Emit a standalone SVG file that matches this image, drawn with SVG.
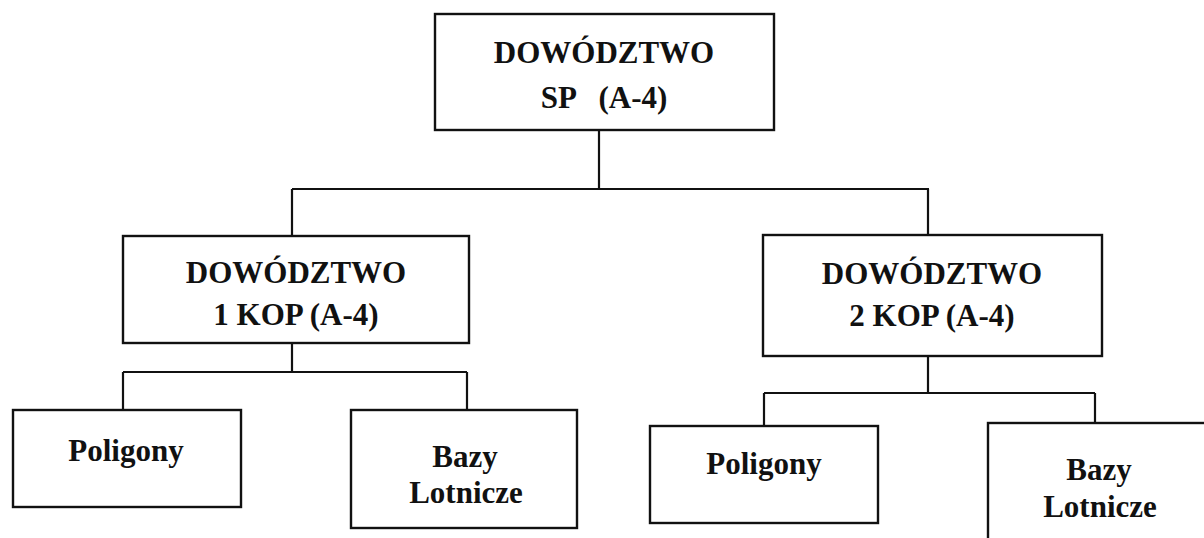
<svg xmlns="http://www.w3.org/2000/svg" width="1204" height="538" viewBox="0 0 1204 538">
<style>
.box{fill:#fff;stroke:#111;stroke-width:2.4}
.ln{fill:none;stroke:#111;stroke-width:2.2}
.t{font-family:"Liberation Serif","Times New Roman",serif;font-weight:bold;fill:#111;text-anchor:middle}
.big{font-size:31px}
.sm{font-size:31px}
</style>
<rect width="1204" height="538" fill="#fff"/>
<g id="connectors">
<path class="ln" d="M599 130V189M292 189H929M292 189V236M928 189V235"/>
<path class="ln" d="M292 343V372M123 372H467M123 372V410M467 372V410"/>
<path class="ln" d="M928 356V393M764 393H1095M764 393V426M1095 393V423"/>
</g>
<g id="dowodztwo-sp">
<rect class="box" x="435" y="14" width="339" height="116"/>
<text class="t big" x="604" y="63">DOWÓDZTWO</text>
<text class="t big" x="604" y="108" xml:space="preserve">SP   (A-4)</text>
</g>
<g id="dowodztwo-1kop">
<rect class="box" x="123" y="236" width="346" height="107"/>
<text class="t big" x="296" y="283">DOWÓDZTWO</text>
<text class="t big" x="296" y="325">1 KOP (A-4)</text>
</g>
<g id="dowodztwo-2kop">
<rect class="box" x="763" y="235" width="339" height="121"/>
<text class="t big" x="932" y="284">DOWÓDZTWO</text>
<text class="t big" x="932" y="326">2 KOP (A-4)</text>
</g>
<g id="poligony-1">
<rect class="box" x="13" y="410" width="228" height="97"/>
<text class="t sm" x="126" y="461">Poligony</text>
</g>
<g id="bazy-1">
<rect class="box" x="351" y="410" width="226" height="118"/>
<text class="t sm" x="465" y="467">Bazy</text>
<text class="t sm" x="466" y="503">Lotnicze</text>
</g>
<g id="poligony-2">
<rect class="box" x="650" y="426" width="228" height="97"/>
<text class="t sm" x="764" y="474">Poligony</text>
</g>
<g id="bazy-2">
<rect class="box" x="988" y="423" width="226" height="130"/>
<text class="t sm" x="1099" y="480">Bazy</text>
<text class="t sm" x="1100" y="517">Lotnicze</text>
</g>
</svg>
